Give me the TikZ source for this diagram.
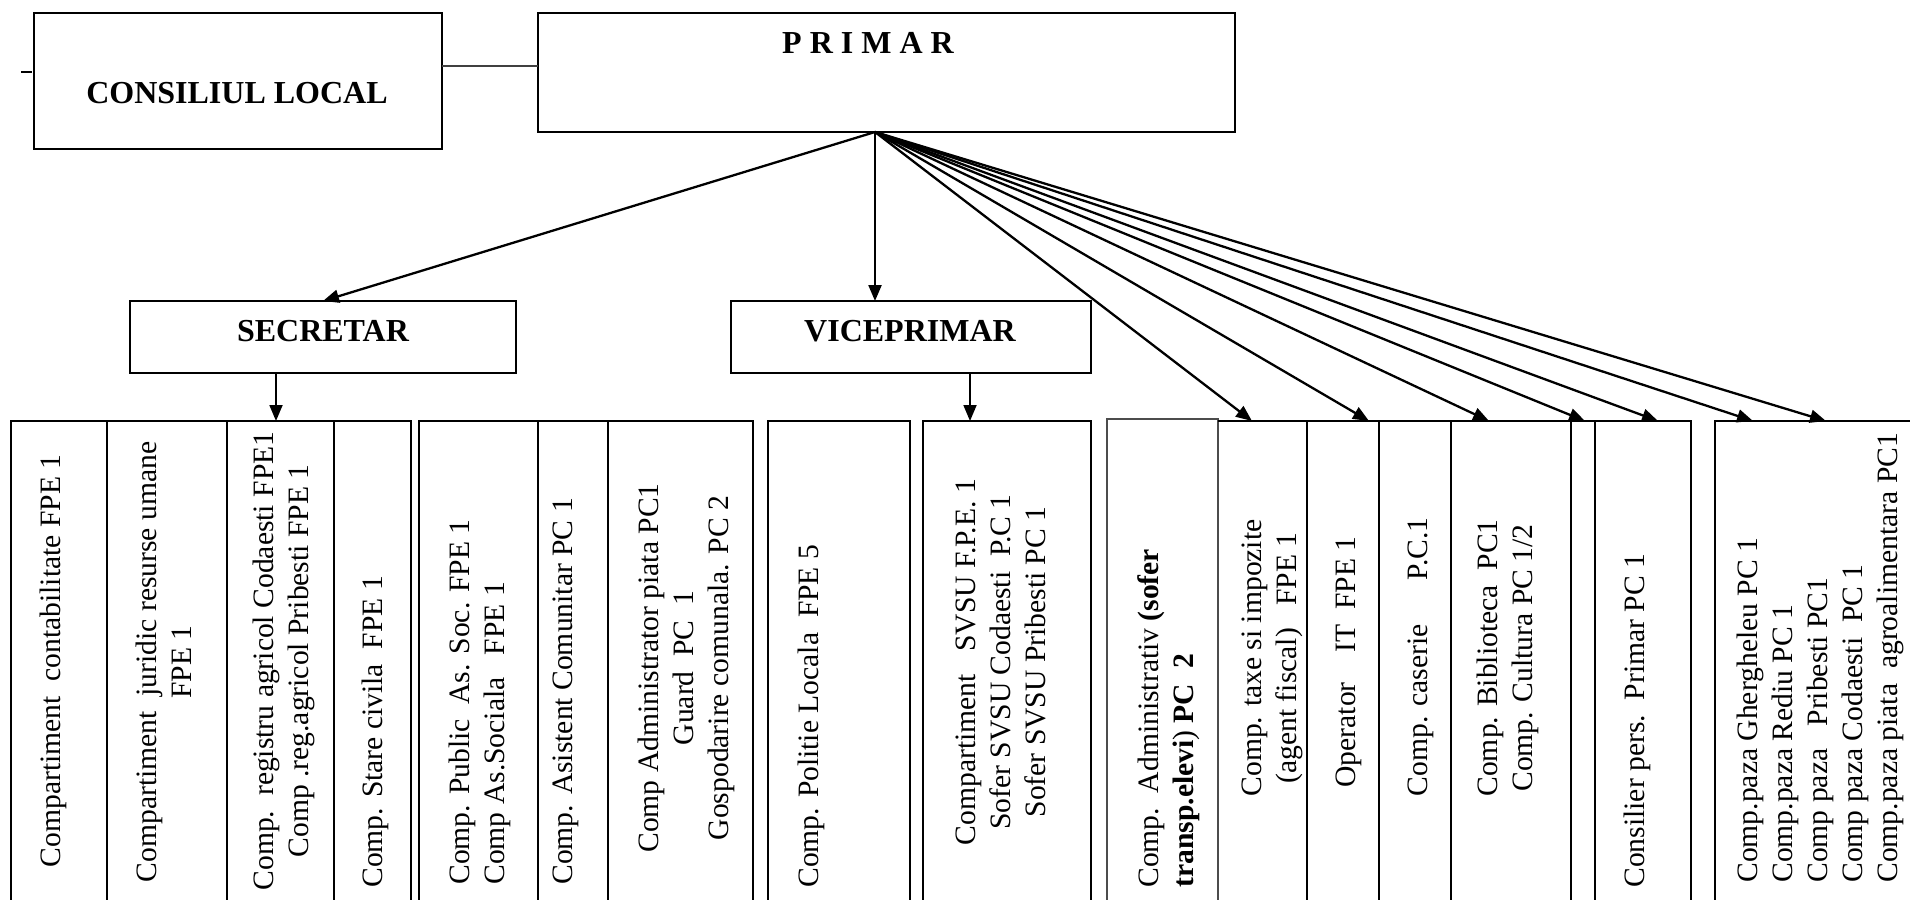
\documentclass[tikz,border=0pt]{standalone}
\usepackage{fontspec}
\setmainfont{Liberation Serif}
\usetikzlibrary{arrows.meta}
\begin{document}
\begin{tikzpicture}[x=0.5pt,y=-0.5pt,
  box/.style={draw, line width=1.25pt, rectangle, inner sep=0pt, outer sep=0pt},
  head/.style={font=\fontsize{16pt}{19pt}\selectfont\bfseries, inner sep=0pt},
  vtext/.style={rotate=90, font=\fontsize{14.8pt}{17.5pt}\selectfont, inner sep=0pt},
  cellline/.style={line width=1.25pt},
  thincell/.style={line width=1pt, draw=black!70},
  arr/.style={line width=1.15pt, -{Triangle[length=8pt,width=6.5pt]}},
  varr/.style={line width=0.9pt, -{Triangle[length=8pt,width=6.5pt]}},
]
\useasboundingbox (0,0) rectangle (1910,899);
\clip (0,0) rectangle (1910,899);

% top level boxes
\node[box, minimum width=204pt, minimum height=68pt] (consiliu) at (238,81) {};
\node[head] (consiliutxt) at (237,93) {CONSILIUL LOCAL};
\node[box, minimum width=348.5pt, minimum height=59.5pt] (primar) at (886.5,72.5) {};
\node[head] (primartxt) at (868,43) {P R I M A R};
\node[box, minimum width=193pt, minimum height=36pt] (secretar) at (323,337) {};
\node[head] (secretartxt) at (323,331) {SECRETAR};
\node[box, minimum width=180pt, minimum height=36pt] (viceprimar) at (911,337) {};
\node[head] (viceprimartxt) at (910,331) {VICEPRIMAR};

\draw[line width=1pt, black!75] (consiliu.east |- 0,66) -- (primar.west |- 0,66);
\draw[line width=1pt] (21,72) -- (32,72);

% bottom cells
\draw[cellline] (11,421) rectangle (411,940);
\foreach \xx in {107,227,334} \draw[cellline] (\xx,421) -- (\xx,940);
\draw[cellline] (419,421) rectangle (753,940);
\foreach \xx in {538,608} \draw[cellline] (\xx,421) -- (\xx,940);
\draw[cellline] (768,421) rectangle (910,940);
\draw[cellline] (923,421) rectangle (1091,940);
\draw[thincell] (1107,419) rectangle (1218,940);
\draw[cellline] (1218,421) -- (1691,421) -- (1691,940);
\foreach \xx in {1307,1379,1451,1571,1595} \draw[cellline] (\xx,421) -- (\xx,940);
\draw[cellline] (1715,940) -- (1715,421) -- (1930,421);

% arrow targets
\coordinate (po) at (875,132);
\coordinate (tgsec) at (276,421);
\coordinate (tgvice) at (970,421);
\coordinate (tg1) at (1252,421);
\coordinate (tg2) at (1369,421);
\coordinate (tg3) at (1489,421);
\coordinate (tg4) at (1585,421);
\coordinate (tg5) at (1658,421);
\coordinate (tg6) at (1753,421);
\coordinate (tg7) at (1826,421);

\draw[arr] (po) -- (secretar.north);
\draw[arr] (po) -- (po |- viceprimar.north);
\draw[varr] (secretar.south -| tgsec) -- (tgsec);
\draw[varr] (viceprimar.south -| tgvice) -- (tgvice);
\foreach \t in {tg1,tg2,tg3,tg4,tg5,tg6,tg7} \draw[arr] (po) -- (\t);

% texts
\node[vtext] (t1) at (53,661) {Compartiment\ \ contabilitate FPE 1};
\node[vtext,align=center] (t2) at (164,662) {Compartiment\ \ juridic resurse umane\\FPE 1};
\node[vtext,align=center] (t3) at (284,661) {Comp.\ \ registru agricol Codaesti FPE1\\Comp .reg.agricol Pribesti FPE 1};
\node[vtext,anchor=west] (t4) at (375,888) {Comp. Stare civila\ \ FPE 1};
\node[vtext,align=left,anchor=west] (t5) at (480,885) {Comp. Public\ \ As. Soc. FPE 1\\Comp As.Sociala\ \ \ FPE 1};
\node[vtext,anchor=west] (t6) at (566,885) {Comp. Asistent Comunitar PC 1};
\node[vtext,align=center] (t7) at (686,668) {Comp Administrator piata PC1\\Guard\ \ PC\ \ 1\\Gospodarire comunala. PC 2};
\node[vtext,anchor=west] (t8) at (811,888) {Comp. Politie Locala\ \ FPE 5};
\node[vtext,align=center] (t9) at (1001,662) {Compartiment\ \ \ SVSU F.P.E. 1\\Sofer SVSU Codaesti\ \ P.C 1\\Sofer SVSU Pribesti PC 1};
\node[vtext,align=left,anchor=west] (t10) at (1169,888) {Comp.\ \ Administrativ \textbf{(sofer}\\\textbf{transp.elevi}) \textbf{PC\ \ 2}};
\node[vtext,align=center] (t11) at (1272,658) {Comp. taxe si impozite\\(agent fiscal)\ \ \ FPE 1};
\node[vtext] (t12) at (1349,662) {Operator\ \ \ \ IT\ \ FPE 1};
\node[vtext] (t13) at (1421,657) {Comp. caserie\ \ \ \ \ \ P.C.1};
\node[vtext,align=center] (t14) at (1508,658) {Comp. Biblioteca\ \ PC1\\Comp. Cultura PC 1/2};
\node[vtext,anchor=west] (t15) at (1637,888) {Consilier pers.\ \ Primar PC 1};
\node[vtext,align=left,anchor=west] (t16) at (1820,883) {Comp.paza Ghergheleu PC 1\\Comp.paza Rediu PC 1\\Comp paza\ \ \ Pribesti PC1\\Comp paza Codaesti\ \ PC 1\\Comp.paza piata\ \ agroalimentara PC1};
\end{tikzpicture}
\end{document}
